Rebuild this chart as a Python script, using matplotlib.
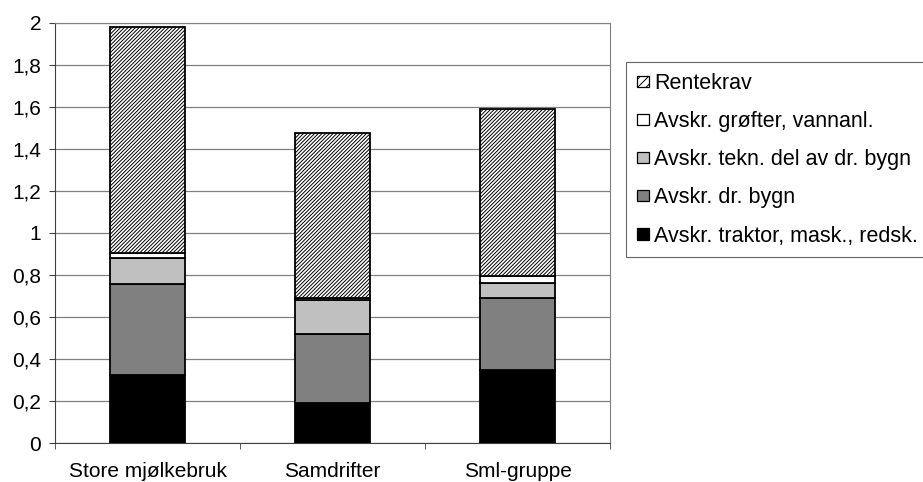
import numpy as np
import matplotlib.pyplot as plt
from matplotlib.patches import Patch

plt.rcParams['font.family'] = ['Liberation Sans', 'DejaVu Sans']
plt.rcParams['hatch.linewidth'] = 0.7

# data
categories = ['Store mjølkebruk', 'Samdrifter', 'Sml-gruppe']
series_names = ['Avskr. traktor, mask., redsk.', 'Avskr. dr. bygn',
                'Avskr. tekn. del av dr. bygn', 'Avskr. grøfter, vannanl.', 'Rentekrav']
traktor = [0.325, 0.19, 0.35]
dr_bygn = [0.43, 0.33, 0.34]
tekn_del = [0.125, 0.16, 0.07]
grofter = [0.025, 0.01, 0.035]
rentekrav = [1.075, 0.785, 0.795]
yticks = [0, 0.2, 0.4, 0.6, 0.8, 1, 1.2, 1.4, 1.6, 1.8, 2]
ytick_labels = ['0', '0,2', '0,4', '0,6', '0,8', '1', '1,2', '1,4', '1,6', '1,8', '2']

series = [traktor, dr_bygn, tekn_del, grofter, rentekrav]
colors = ['#000000', '#808080', '#c0c0c0', '#ffffff', '#ffffff']
hatches = [None, None, None, None, '/' * 9]

fs = 15

fig = plt.figure(figsize=(9.23, 4.82), dpi=100)
ax = fig.add_axes([0.0596, 0.0809, 0.6013, 0.8714])

x = np.arange(len(categories))
bottom = np.zeros(len(categories))
handles = []
for vals, name, c, h in zip(series, series_names, colors, hatches):
    ax.bar(x, vals, width=0.405, bottom=bottom, color=c, edgecolor='black',
           linewidth=1.3, hatch=h, zorder=3)
    bottom += np.array(vals)
    handles.append(Patch(facecolor=c, edgecolor='black', hatch='////' if h else None,
                         linewidth=0.9, label=name))

ax.set_xlim(-0.5, len(categories) - 0.5)
ax.set_ylim(0, 2)
ax.set_yticks(yticks)
ax.set_yticklabels(ytick_labels, fontsize=fs)
ax.set_xticks(x)
ax.set_xticklabels(categories, fontsize=fs)
ax.set_xticks(np.arange(len(categories) + 1) - 0.5, minor=True)
ax.tick_params(axis='x', which='major', length=0, pad=14)
ax.tick_params(axis='x', which='minor', length=4, color='#404040')
ax.tick_params(axis='y', length=4, color='#404040', pad=6)
ax.grid(axis='y', color='#808080', linewidth=0.9, zorder=0)
for s in ['top', 'right']:
    ax.spines[s].set_color('#808080')
for s in ['left', 'bottom']:
    ax.spines[s].set_color('#404040')

leg = fig.legend(handles=handles[::-1], loc='upper left',
                 bbox_to_anchor=(626 / 923, 1 - 62 / 482), fontsize=15.5, frameon=True,
                 fancybox=False, edgecolor='#404040', handlelength=0.55,
                 handleheight=0.42, handletextpad=0.25, labelspacing=0.8,
                 borderpad=0.5, borderaxespad=0)
leg.get_frame().set_linewidth(0.8)

fig.savefig('out.png', dpi=100)
